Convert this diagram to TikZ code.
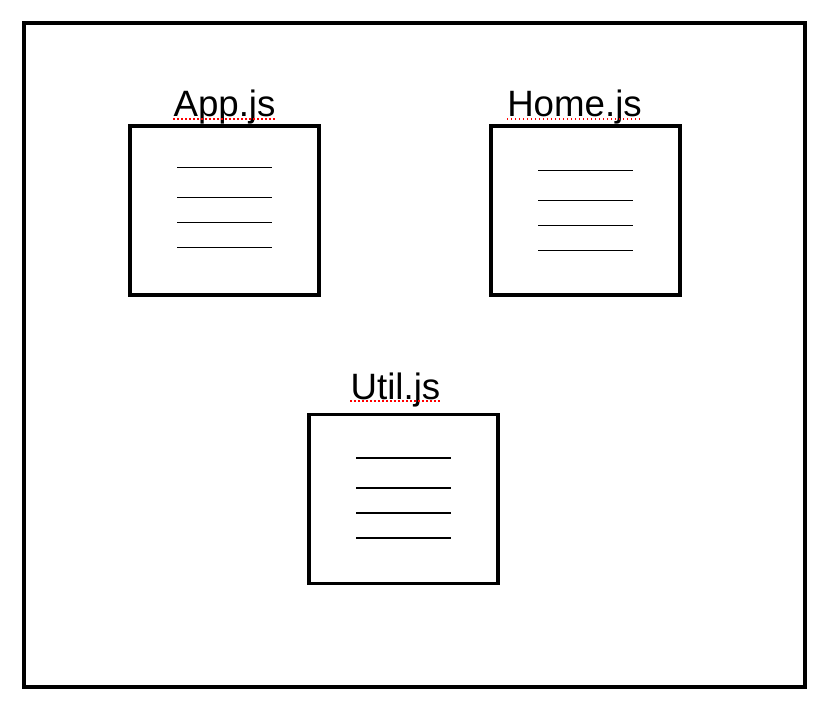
\documentclass[tikz,border=0pt]{standalone}
\usepackage{fontspec}
\setmainfont{Liberation Sans}
\usetikzlibrary{positioning,calc}
\tikzset{
  filebox/.style={draw, line width=2.4pt, minimum width=141.75pt, minimum height=126.75pt, inner sep=0pt},
  filename/.style={anchor=base, inner sep=0pt, font=\fontsize{27.5}{30}\selectfont},
  codeline/.style={line width=1.4pt},
  spell/.style={red, line width=1pt, dotted}
}
\begin{document}
\begin{tikzpicture}[x=0.75pt, y=-0.75pt]
  \useasboundingbox (0,0) rectangle (821,702);
  \draw[line width=2.4pt] (24,23) rectangle (805,687);

  \node[filebox] (app) at (224.5,210.5) {};
  \node[filebox] (home) at (585.5,210.5) {};
  \node[filebox] (util) at (403.5,499) {};

  \node[filename] (applbl) at (224.5,117) {App.js};
  \node[filename] (homelbl) at (574.5,117) {Home.js};
  \node[filename] (utillbl) at (395.5,399) {Util.js};

  % spell check marks
  \draw[spell] ([yshift=-1.5pt]applbl.base west) -- ([yshift=-1.5pt]applbl.base east);
  \draw[spell] ([yshift=-1.5pt]homelbl.base west) -- ([yshift=-1.5pt]homelbl.base east);
  \draw[spell] ([yshift=-1.5pt]utillbl.base west) -- ([yshift=-1.5pt]utillbl.base east);

  \foreach \b/\d in {app/-1, home/2, util/1}
    \foreach \y in {-42, -12, 13, 38}
      \draw[codeline] ($(\b)+(-47.5,\y+\d)$) -- ($(\b)+(47.5,\y+\d)$);
\end{tikzpicture}
\end{document}
